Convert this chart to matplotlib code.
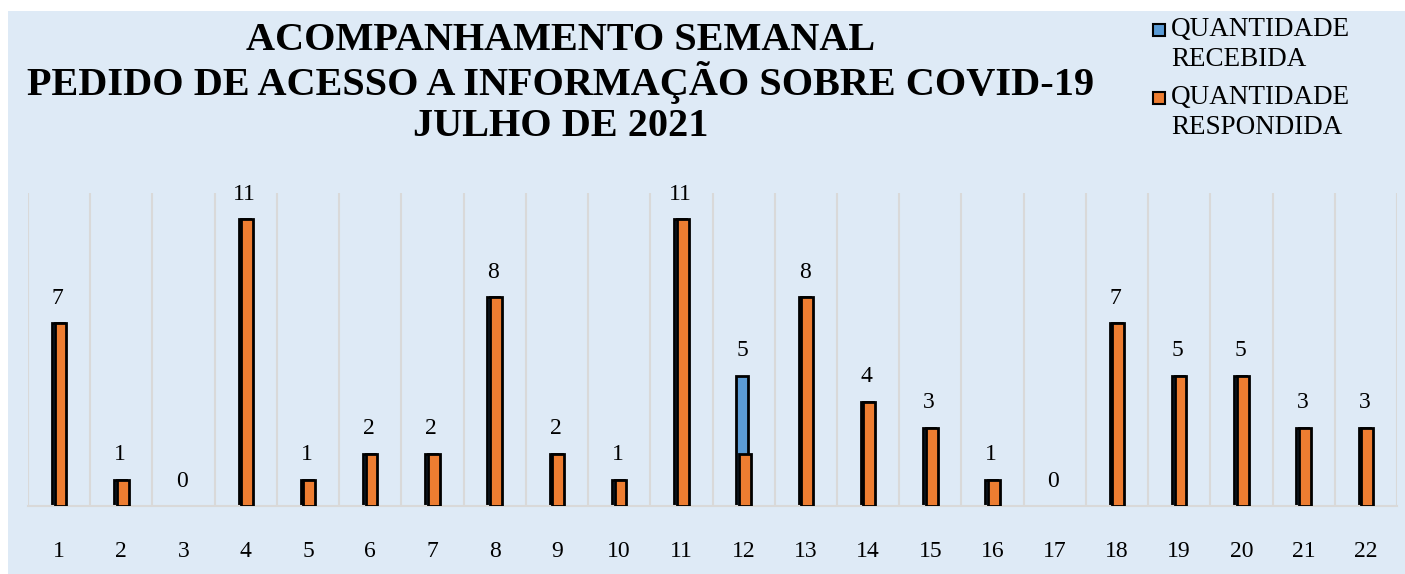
import matplotlib
matplotlib.use("Agg")
import matplotlib.pyplot as plt
from matplotlib.patches import Rectangle
import numpy as np

BG, BLUE, ORANGE, GRID = "#DEEAF6", "#5B9BD5", "#ED7D31", "#D9D9D9"
plt.rcParams["font.family"] = ["Liberation Serif", "DejaVu Serif"]

semanas = [str(i) for i in range(1, 23)]
recebida = [7, 1, 0, 11, 1, 2, 2, 8, 2, 1, 11, 5, 8, 4, 3, 1, 0, 7, 5, 5, 3, 3]
respondida = [7, 1, 0, 11, 1, 2, 2, 8, 2, 1, 11, 2, 8, 4, 3, 1, 0, 7, 5, 5, 3, 3]
titulo = ["ACOMPANHAMENTO SEMANAL",
          "PEDIDO DE ACESSO A INFORMAÇÃO SOBRE COVID-19",
          "JULHO DE 2021"]

W, H = 1405, 574
fig = plt.figure(figsize=(W / 100, H / 100), dpi=100)
fig.patch.set_facecolor("white")
# light blue chart area, leaving a thin white strip on the left and top
fig.add_artist(Rectangle((8 / W, 0), 1, 1 - 11 / H, transform=fig.transFigure,
                         facecolor=BG, edgecolor="none", zorder=-10))

ax = fig.add_axes([28 / W, 1 - 506 / H, (1397 - 28) / W, (506 - 193) / H])
ax.set_facecolor("none")

x = np.arange(len(semanas))
w, off = 0.19, 0.021
lw_rec = [2.0 if v > 0 else 0 for v in recebida]
lw_resp = [2.0 if v > 0 else 0 for v in respondida]
ax.bar(x - off, recebida, width=w, color=BLUE, edgecolor="black", linewidth=lw_rec, zorder=2)
ax.bar(x + off, respondida, width=w, color=ORANGE, edgecolor="black", linewidth=lw_resp, zorder=3)

for xi, v in zip(x, recebida):
    ax.annotate(str(v), (xi - off, v), xytext=(0, 14), textcoords="offset points",
                ha="center", va="baseline", fontsize=17)

ax.set_xlim(-0.5, len(semanas) - 0.5)
ax.set_ylim(0, 12)
ax.set_xticks(x)
ax.set_xticklabels(semanas, fontsize=17)
ax.set_xticks(np.arange(len(semanas) + 1) - 0.5, minor=True)
ax.tick_params(axis="x", which="both", length=0, pad=25)
ax.set_yticks([])
ax.grid(axis="x", which="minor", color=GRID, linewidth=1.5, zorder=0)
ax.grid(axis="x", which="major", visible=False)
for s in ["top", "right", "left"]:
    ax.spines[s].set_visible(False)
ax.spines["bottom"].set_color(GRID)
ax.spines["bottom"].set_linewidth(1.5)

for linha, yp in zip(titulo, [40, 83, 126]):
    fig.text(561 / W, 1 - yp / H, linha, ha="center", va="center",
             fontsize=29, fontweight="bold")

# legend
for cor, y1, y2, lab in [(BLUE, 30, 60, "RECEBIDA"), (ORANGE, 98, 128, "RESPONDIDA")]:
    fig.add_artist(Rectangle((1153 / W, 1 - (y1 + 6) / H), 12 / W, 12 / H,
                             transform=fig.transFigure, facecolor=cor,
                             edgecolor="black", linewidth=1.5))
    fig.text(1171 / W, 1 - y1 / H, "QUANTIDADE", ha="left", va="center", fontsize=19.5)
    fig.text(1171 / W, 1 - y2 / H, lab, ha="left", va="center", fontsize=19.5)

fig.savefig("out.png", dpi=100)
